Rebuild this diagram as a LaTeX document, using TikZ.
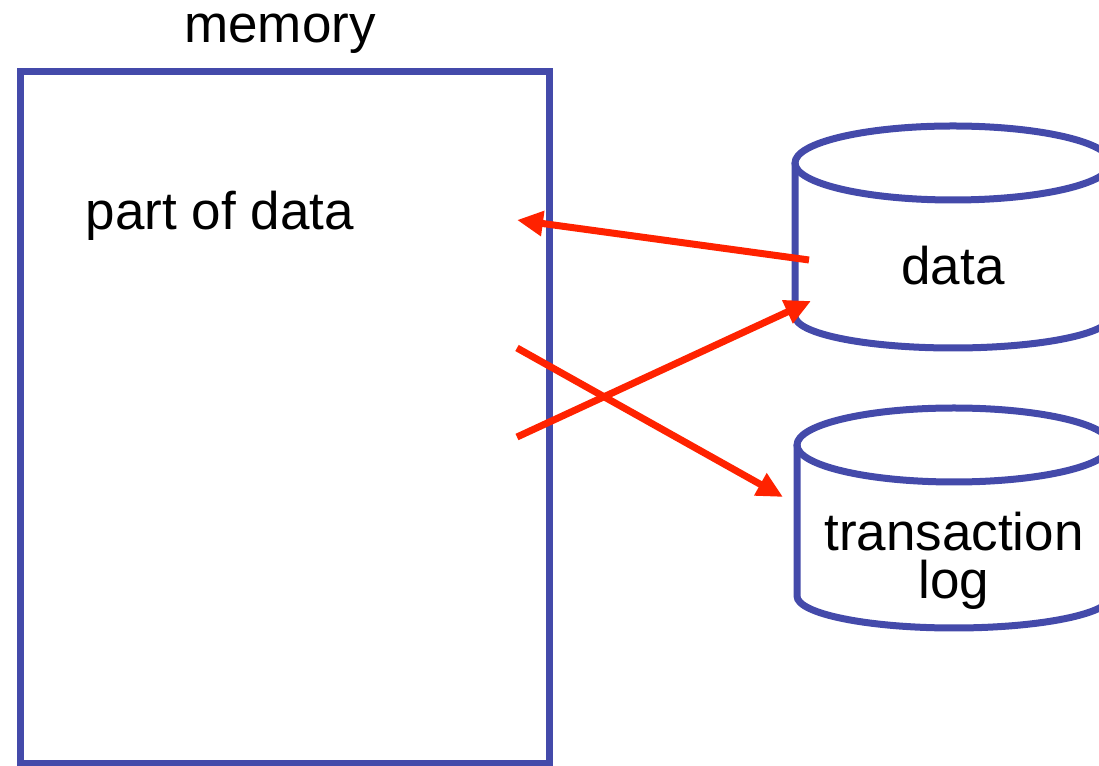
\documentclass[tikz,border=0pt]{standalone}
\usepackage{fontspec}
\setmainfont{Liberation Sans}
\usetikzlibrary{arrows.meta}

\definecolor{boxblue}{RGB}{68,74,170}
\definecolor{flowred}{RGB}{255,34,0}

\begin{document}
\begin{tikzpicture}[x=1pt, y=1pt,
    box/.style={draw=boxblue, line width=7pt},
    label/.style={font=\fontsize{53}{48}\selectfont, inner sep=0pt, anchor=base, align=center},
    flow/.style={draw=flowred, line width=7pt, -{Triangle[length=26pt, width=24pt]}}]
    \clip (0,0) rectangle (1099,765);

    \node[box, minimum width=529, minimum height=691, inner sep=0pt] (mem) at (284.5,347.5) {};
    \node[label] (memlabel) at (280,722) {memory};
    \node[label] (part) at (220,535) {part of data};

    % data disk
    \draw[box, fill=white] (795,602) -- (795,449) arc[start angle=180, end angle=360, x radius=158, y radius=32] -- (1111,602);
    \draw[box] (953,602) ellipse[x radius=158, y radius=37];
    \node[label] (data) at (953,480) {data};

    % log disk
    \draw[box, fill=white] (797,320) -- (797,169) arc[start angle=180, end angle=360, x radius=157, y radius=32] -- (1111,320);
    \draw[box] (954,320) ellipse[x radius=157, y radius=37];
    \node[label] (log) at (954,166) {transaction\\log};

    \coordinate (readfrom) at (809,505);
    \coordinate (readto) at (517,545);
    \coordinate (writefrom) at (517,328);
    \coordinate (writeto) at (811,464);
    \coordinate (logfrom) at (517,417);
    \coordinate (logto) at (783,268);

    \path[flow] (readfrom) -- (readto);
    \path[flow] (writefrom) -- (writeto);
    \path[flow] (logfrom) -- (logto);
\end{tikzpicture}
\end{document}
